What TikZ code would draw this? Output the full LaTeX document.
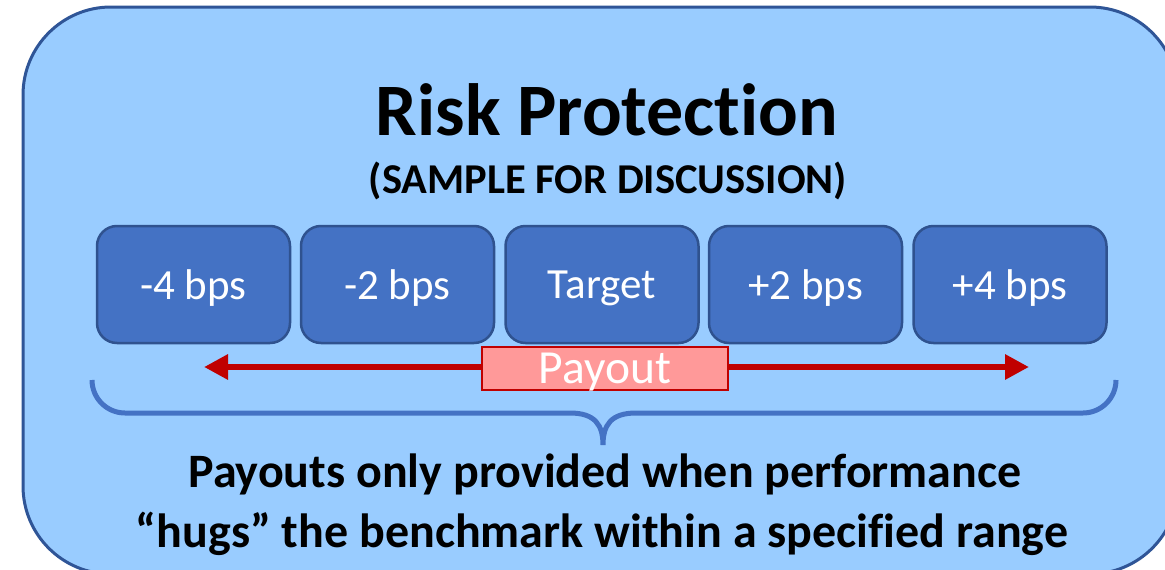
\documentclass[tikz,border=0pt]{standalone}
\usepackage{fontspec}
\setmainfont{Carlito}[Ligatures=NoCommon]
\usetikzlibrary{arrows.meta}
\definecolor{panelfill}{HTML}{99CCFF}
\definecolor{panelline}{HTML}{2F5597}
\definecolor{boxfill}{HTML}{4472C4}
\definecolor{boxline}{HTML}{2F528F}
\definecolor{payred}{HTML}{C00000}
\definecolor{payfill}{HTML}{FF9999}

\begin{document}
\begin{tikzpicture}[x=1pt,y=-1pt]
		\tikzset{panel/.style={draw=panelline, fill=panelfill, line width=3pt, rounded corners=88pt}}
		\tikzset{level/.style={shape=rectangle, rounded corners=20pt, draw=boxline, fill=boxfill,
				line width=2.5pt, minimum width=193pt, minimum height=117pt, text depth=0pt,
				text=white, font=\fontsize{43}{50}\selectfont}}
		\tikzset{payoutbox/.style={shape=rectangle, draw=payred, fill=payfill, line width=2.5pt,
				minimum width=246pt, minimum height=43pt, inner sep=0pt, text depth=0pt,
				text=white, font=\fontsize{47.5}{50}\selectfont}}
		\tikzset{payarrow/.style={draw=payred, line width=6pt,
				{Triangle[length=24pt,width=24pt]}-{Triangle[length=24pt,width=24pt]}}}
		\tikzset{brace/.style={draw=boxfill, line width=5pt}}
		\tikzset{heading/.style={anchor=base, font=\bfseries\fontsize{74}{76}\selectfont}}
		\tikzset{subheading/.style={anchor=base, font=\bfseries\fontsize{42.5}{50}\selectfont}}
		\tikzset{note/.style={anchor=base, font=\bfseries\fontsize{48}{50}\selectfont}}
		\clip (0,0) rectangle (1165,570);
		%panel
		\fill[white] (0,0) rectangle (1165,570);
		\draw[panel] (23,7) rectangle (1178,574);
		\node[heading] (title) at (607,135) {Risk Protection};
		\node[subheading] (sub) at (608,193) {(SAMPLE FOR DISCUSSION)};
		%levels
		\node[level] (m4) at (193.5,284.5) {-4 bps};
		\node[level] (m2) at (397.5,284.5) {-2 bps};
		\node[level] (tg) at (602,284.5) {Target};
		\node[level] (p2) at (805.5,284.5) {+2 bps};
		\node[level] (p4) at (1010,284.5) {+4 bps};
		%payout range
		\coordinate (left) at (204,367);
		\coordinate (right) at (1029,367);
		\draw[payarrow] (left) -- (right);
		\node[payoutbox] (pay) at (605,368.5) {Payout};
		%brace
		\draw[brace] (92,380) arc[start angle=180, end angle=90, radius=33] -- (570,413)
			.. controls (595,413) and (603,425) .. (603,445)
			.. controls (603,425) and (611,413) .. (636,413) -- (1083,413)
			arc[start angle=90, end angle=0, radius=33];
		%text
		\node[note] (line1) at (605,487) {Payouts only provided when performance};
		\node[note] (line2) at (602,547) {“hugs” the benchmark within a specified range};
\end{tikzpicture}
\end{document}
